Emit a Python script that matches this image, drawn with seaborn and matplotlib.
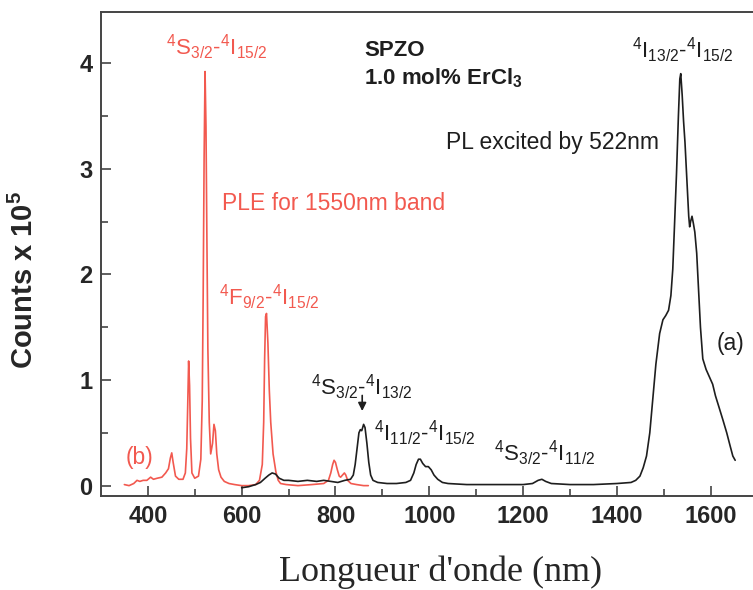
import matplotlib
matplotlib.use("Agg")
import matplotlib.pyplot as plt
import seaborn as sns
import pandas as pd

# PLE spectrum (red), monitored at 1550 nm
ple_wl = [350, 360, 370, 377, 383, 390, 398, 406, 412, 420, 430, 438, 444, 448, 451, 454,
          459, 466, 475, 480, 483, 485, 487, 489, 491, 494, 500, 508, 513, 516, 518, 520,
          522, 524, 526, 528, 531, 534, 538, 541, 544, 547, 551, 556, 563, 573, 585, 600,
          615, 630, 638, 644, 647, 649, 651, 653, 656, 659, 662, 667, 673, 678, 683, 695,
          720, 750, 775, 785, 790, 794, 797, 800, 804, 808, 811, 815, 819, 822, 826, 833,
          845, 860, 870]
ple_counts = [0.01, 0.00, 0.02, 0.05, 0.04, 0.05, 0.05, 0.08, 0.06, 0.07, 0.08, 0.12, 0.16, 0.26, 0.31, 0.22,
              0.09, 0.06, 0.06, 0.12, 0.35, 0.75, 1.18, 0.95, 0.45, 0.12, 0.07, 0.09, 0.25, 0.80, 1.80, 3.10,
              3.92, 3.40, 2.30, 1.30, 0.60, 0.30, 0.40, 0.58, 0.52, 0.30, 0.15, 0.08, 0.04, 0.02, 0.01, 0.00,
              0.00, 0.01, 0.05, 0.20, 0.60, 1.20, 1.60, 1.63, 1.35, 0.90, 0.60, 0.30, 0.13, 0.05, 0.02, 0.01,
              0.00, 0.01, 0.02, 0.05, 0.12, 0.20, 0.24, 0.22, 0.15, 0.09, 0.08, 0.10, 0.12, 0.10, 0.05, 0.02,
              0.01, 0.00, 0.00]

# PL spectrum (black), excited at 522 nm
pl_wl = [600, 615, 630, 640, 650, 658, 665, 672, 680, 690, 700, 720, 740, 760, 775, 790,
         805, 820, 832, 838, 842, 846, 850, 853, 856, 860, 863, 867, 871, 875, 880, 890,
         910, 930, 950, 960, 967, 972, 977, 981, 986, 992, 998, 1004, 1010, 1018, 1028, 1040,
         1080, 1120, 1160, 1200, 1220, 1232, 1240, 1248, 1260, 1300, 1350, 1400, 1430, 1440,
         1449, 1456, 1463, 1470, 1476, 1483, 1491, 1498, 1504, 1510, 1515, 1519, 1523, 1527,
         1531, 1534, 1536, 1539, 1542, 1545, 1549, 1553, 1555, 1557, 1560, 1563, 1566, 1570,
         1574, 1578, 1583, 1590, 1597, 1604, 1610, 1617, 1626, 1634, 1641, 1647, 1652]
pl_counts = [-0.02, -0.01, 0.01, 0.03, 0.07, 0.10, 0.12, 0.11, 0.07, 0.05, 0.05, 0.04, 0.05, 0.04, 0.05, 0.04,
             0.03, 0.05, 0.06, 0.10, 0.20, 0.35, 0.50, 0.53, 0.52, 0.58, 0.55, 0.40, 0.22, 0.10, 0.05, 0.03,
             0.02, 0.02, 0.03, 0.05, 0.12, 0.20, 0.25, 0.25, 0.21, 0.18, 0.18, 0.15, 0.10, 0.06, 0.03, 0.02,
             0.01, 0.01, 0.01, 0.01, 0.02, 0.05, 0.06, 0.04, 0.02, 0.01, 0.01, 0.02, 0.03, 0.05,
             0.09, 0.17, 0.28, 0.50, 0.80, 1.15, 1.44, 1.57, 1.61, 1.66, 1.80, 2.05, 2.50, 2.96,
             3.50, 3.85, 3.90, 3.70, 3.45, 3.25, 2.90, 2.55, 2.45, 2.50, 2.55, 2.48, 2.40, 2.20,
             1.85, 1.50, 1.20, 1.10, 1.03, 0.96, 0.85, 0.75, 0.62, 0.50, 0.38, 0.28, 0.24]

ple = pd.DataFrame({"wl": ple_wl, "counts": ple_counts})
pl = pd.DataFrame({"wl": pl_wl, "counts": pl_counts})

red = "#f2594f"
ink = "#1e1e1e"

sns.set_style("ticks")
plt.rcParams["font.family"] = ["Liberation Sans", "DejaVu Sans"]
plt.rcParams["mathtext.fontset"] = "custom"
plt.rcParams["mathtext.rm"] = "Liberation Sans"
plt.rcParams["mathtext.it"] = "Liberation Sans:italic"
plt.rcParams["mathtext.bf"] = "Liberation Sans:bold"

fig = plt.figure(figsize=(7.53, 5.9), dpi=100)
ax = fig.add_axes([0.134, 0.159, 0.866, 0.820])

sns.lineplot(data=ple, x="wl", y="counts", color=red, lw=1.2, ax=ax)
sns.lineplot(data=pl, x="wl", y="counts", color=ink, lw=1.2, ax=ax)

ax.set_xlim(300, 1690)
ax.set_ylim(-0.10, 4.48)
ax.set_xticks([400, 600, 800, 1000, 1200, 1400, 1600])
ax.set_xticks(range(500, 1700, 200), minor=True)
ax.set_yticks([0, 1, 2, 3, 4])
ax.set_yticks([0.5, 1.5, 2.5, 3.5], minor=True)
ax.tick_params(which="both", direction="in", color="#444444", width=1.2)
ax.tick_params(which="major", length=7, labelsize=17, pad=6)
ax.tick_params(which="minor", length=5)
for lab in ax.get_xticklabels() + ax.get_yticklabels():
    lab.set_fontweight("bold")
for side in ["left", "bottom", "top"]:
    ax.spines[side].set_linewidth(1.4)
    ax.spines[side].set_color("#444444")
ax.spines["right"].set_visible(False)
ax.set_xlabel("")
ax.set_ylabel("")

fig.text(0.032, 0.525, r"Counts x 10$^\mathbf{5}$", rotation=90, ha="center", va="center",
         fontsize=21, fontweight="bold")
fig.text(0.585, 0.030, "Longueur d'onde (nm)", ha="center", va="center",
         fontsize=26, family="Liberation Serif")

fs = 16
ax.text(547, 4.15, r"$^4$S$_{3/2}$-$^4$I$_{15/2}$", color=red, fontsize=fs, ha="center", va="center")
ax.text(558, 2.67, "PLE for 1550nm band", color=red, fontsize=16.5, ha="left", va="center")
ax.text(658, 1.78, r"$^4$F$_{9/2}$-$^4$I$_{15/2}$", color=red, fontsize=fs, ha="center", va="center")
ax.text(353, 0.27, "(b)", color=red, fontsize=16.5, ha="left", va="center")

ax.text(861, 4.12, "SPZO", color=ink, fontsize=16, fontweight="bold", ha="left", va="center")
ax.text(861, 3.86, r"1.0 mol% ErCl$_\mathbf{3}$", color=ink, fontsize=16, fontweight="bold",
        ha="left", va="center")
ax.text(1036, 3.25, "PL excited by 522nm", color=ink, fontsize=16.5, ha="left", va="center")
ax.text(1540, 4.12, r"$^4$I$_{13/2}$-$^4$I$_{15/2}$", color=ink, fontsize=fs, ha="center", va="center")
ax.text(856, 0.93, r"$^4$S$_{3/2}$-$^4$I$_{13/2}$", color=ink, fontsize=fs, ha="center", va="center")
ax.text(991, 0.50, r"$^4$I$_{11/2}$-$^4$I$_{15/2}$", color=ink, fontsize=fs, ha="center", va="center")
ax.text(1246, 0.31, r"$^4$S$_{3/2}$-$^4$I$_{11/2}$", color=ink, fontsize=fs, ha="center", va="center")
ax.text(1613, 1.35, "(a)", color=ink, fontsize=16.5, ha="left", va="center")

ax.annotate("", xy=(857, 0.68), xytext=(857, 0.88),
            arrowprops=dict(arrowstyle="-|>", color=ink, lw=1.2, mutation_scale=12))

fig.savefig("out.png", dpi=100)
